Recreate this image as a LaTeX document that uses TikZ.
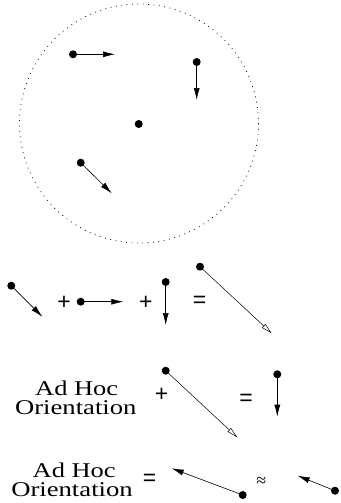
\documentclass[tikz,border=0pt]{standalone}
\usepackage{fontspec}
\setmainfont{Liberation Serif}
\newfontfamily\symfont{Liberation Sans}
\newfontfamily\lblfont{Liberation Serif}
\usetikzlibrary{arrows.meta}
\tikzset{
  dot/.style={circle,fill=black,inner sep=0pt,minimum size=8pt},
  vec/.style={line width=0.6pt,-{Latex[length=12pt,width=6pt]},shorten <=-2pt},
  ovec/.style={line width=0.5pt,-{Triangle[open,length=11pt,width=5pt,line width=0.5pt]},shorten <=-2pt},
  sym/.style={inner sep=0pt,font=\symfont\fontsize{23}{23}\selectfont},
  lbl/.style={inner sep=0pt,anchor=base,font=\lblfont\fontsize{21}{21}\selectfont},
}
\begin{document}
\begin{tikzpicture}[x=1pt,y=-1pt]
\useasboundingbox (0,0) rectangle (340,503);
% circle
\draw[line width=0.8pt,dash pattern=on 0.8pt off 4.6pt] (139,123.5) circle[radius=119.5];
\node[dot] (c1) at (73,54.3) {};
\coordinate (c1e) at (115,54.3);
\draw[vec] (c1) -- (c1e);
\node[dot] (c2) at (196.7,62) {};
\coordinate (c2e) at (196.7,100);
\draw[vec] (c2) -- (c2e);
\node[dot] (c0) at (138.7,124) {};
\node[dot] (c3) at (80.7,162.7) {};
\coordinate (c3e) at (111.7,193.3);
\draw[vec] (c3) -- (c3e);
% row 1
\node[dot] (a1) at (11.3,285.7) {};
\coordinate (a1e) at (42.3,316.7);
\draw[vec] (a1) -- (a1e);
\node[sym] (p1) at (64,303.3) {+};
\node[dot] (a2) at (80.7,301.7) {};
\coordinate (a2e) at (123.3,301.7);
\draw[vec] (a2) -- (a2e);
\node[sym] (p2) at (145.8,303.3) {+};
\node[dot] (a3) at (165.7,282) {};
\coordinate (a3e) at (165.7,325);
\draw[vec] (a3) -- (a3e);
\node[sym] (e1) at (199.7,302) {=};
\node[dot] (a4) at (200,266.7) {};
\coordinate (a4e) at (271.7,333.3);
\draw[ovec] (a4) -- (a4e);
% row 2
\node[lbl] (h1) at (76.7,395.2) {\scalebox{1.26}[1]{Ad Hoc}};
\node[lbl] (o1) at (75.8,414.3) {\scalebox{1.27}[1]{Orientation}};
\node[sym] (p3) at (161.7,395) {+};
\node[dot] (b1) at (165.7,370.7) {};
\coordinate (b1e) at (237.3,437.3);
\draw[ovec] (b1) -- (b1e);
\node[sym] (e2) at (246,399.7) {=};
\node[dot] (b2) at (277.3,374.3) {};
\coordinate (b2e) at (277.3,416.7);
\draw[vec] (b2) -- (b2e);
% row 3
\node[lbl] (h2) at (74.2,477.2) {\scalebox{1.26}[1]{Ad Hoc}};
\node[lbl] (o2) at (72,496.7) {\scalebox{1.27}[1]{Orientation}};
\node[sym] (e3) at (149.7,480.3) {=};
\node[dot] (d1) at (242.7,495) {};
\coordinate (d1e) at (171.7,468.3);
\draw[vec] (d1) -- (d1e);
\node[inner sep=0pt,font=\lblfont\fontsize{18}{18}\selectfont] (ap) at (261.3,482.3) {≈};
\node[dot] (d2) at (335,490.7) {};
\coordinate (d2e) at (297.7,475.7);
\draw[vec] (d2) -- (d2e);
\end{tikzpicture}
\end{document}
